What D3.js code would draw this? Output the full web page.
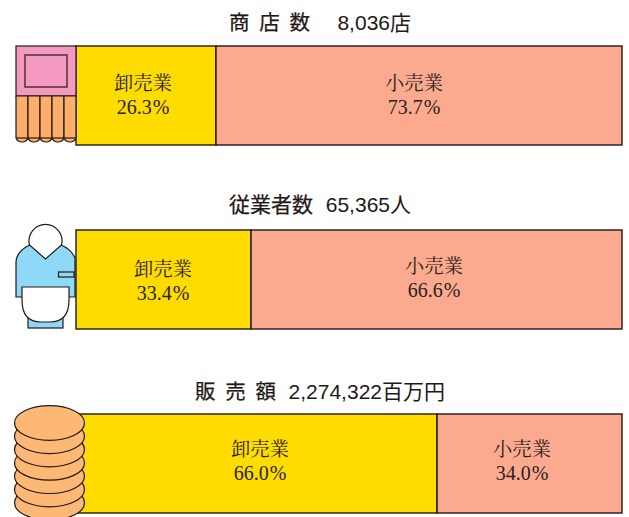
<!DOCTYPE html>
<html><head><meta charset="utf-8">
<script src="https://cdn.jsdelivr.net/npm/d3@7"></script>
<style>html,body{margin:0;padding:0;background:#fff}svg{display:block}</style>
</head><body><div id="c"></div>
<script>
const titleLabels = ["商 店 数","従業者数","販 売 額"];
const titleValues = ["8,036店","65,365人","2,274,322百万円"];
const categories = ["卸売業","小売業"];
const wholesale = [26.3,33.4,66.0];
const retail = [73.7,66.6,34.0];
const W=629,H=517;
const tops=[46,230,414], titleY=[30,212,399], titleL=[229,229,195], titleR=[411,411,445];
const left=76, right=622, barH=99;
// the hidden zero point of each bar sits behind its pictogram
const zero=[71.1,65,78];
const labelX=[[143,414],[163,434],[260,522]];
const labelY=[[90,90],[276,273],[456,456]];
const yellow="#ffdc00", salmon="#fbaa8f", ink="#2a2320";
const svg=d3.select("#c").append("svg").attr("width",W).attr("height",H);
const sans='"Liberation Sans","Noto Sans CJK JP",sans-serif';
const serif='"Liberation Serif","Noto Serif CJK JP","Noto Sans CJK JP",serif';
titleLabels.forEach((t,i)=>{
  const x=d3.scaleLinear().domain([0,100]).range([zero[i],right]);
  const g=svg.append("g");
  g.append("text").attr("x",titleL[i]).attr("y",titleY[i]).attr("word-spacing",i==1?0:4)
   .attr("font-family",sans).attr("font-size",i==1?21:20.5).attr("stroke","#231815").attr("stroke-width",0.25).attr("fill","#231815").text(t);
  g.append("text").attr("x",titleR[i]).attr("y",titleY[i]).attr("text-anchor","end")
   .attr("font-family",sans).attr("font-size",21).attr("fill","#231815").text(titleValues[i]);
  const segs=[{n:categories[0],v:wholesale[i],a:0,b:wholesale[i],f:yellow,k:0},
              {n:categories[1],v:retail[i],a:wholesale[i],b:100,f:salmon,k:1}];
  const s=g.selectAll("g").data(segs).join("g");
  s.append("rect").attr("x",d=>Math.max(x(d.a),left)).attr("y",tops[i])
   .attr("width",d=>x(d.b)-Math.max(x(d.a),left)).attr("height",barH)
   .attr("fill",d=>d.f).attr("stroke","#231815").attr("stroke-width",1.4);
  s.append("text").attr("x",d=>labelX[i][d.k]).attr("y",d=>labelY[i][d.k]).attr("text-anchor","middle")
   .attr("font-family",serif).attr("font-size",19.300).attr("fill",ink).text(d=>d.n);
  const pct=s.append("text").attr("x",d=>labelX[i][d.k]).attr("y",d=>labelY[i][d.k]+24).attr("text-anchor","middle")
   .attr("font-family",serif).attr("font-size",20).attr("fill",ink);
  pct.append("tspan").text(d=>d.v.toFixed(1));
  pct.append("tspan").attr("dx",1).text("%");
});
const st={stroke:"#231815","stroke-width":1.2};
const ap=(sel,o)=>{for(const k in o)sel.attr(k,o[k]);return sel;};
// shop icon
const shop=svg.append("g");
ap(shop.append("rect").attr("x",16).attr("y",46).attr("width",60).attr("height",50).attr("fill","#f49ac1"),st);
ap(shop.append("rect").attr("x",25).attr("y",55).attr("width",42).attr("height",32).attr("fill","#f49ac1"),st);
d3.range(5).forEach(k=>{
  const x0=16+k*12;
  ap(shop.append("path").attr("d",`M${x0} 96V138A6.500 6.500 0 0 0 ${x0+12} 138V96Z`).attr("fill","#fdae6b"),st);
  ap(shop.append("path").attr("d",`M${x0} 138H${x0+12}`).attr("fill","none"),st);
});
// person icon
const p=svg.append("g");
ap(p.append("rect").attr("x",28).attr("y",310).attr("width",35).attr("height",18).attr("fill","#8ed8f8"),st);
ap(p.append("path").attr("d","M29.500 245Q16 252 16 262V297H75V258Q71 249 61 245Z").attr("fill","#8ed8f8"),st);
ap(p.append("path").attr("d","M29.500 245A16.500 16.500 0 1 1 61.500 245L45.500 259Z").attr("fill","#fff"),st);
ap(p.append("rect").attr("x",58.500).attr("y",272).attr("width",15.500).attr("height",5).attr("fill","#8ed8f8"),st);
ap(p.append("path").attr("d","M22 287H69V300Q69 322 50 322H41Q22 322 22 300Z").attr("fill","#fff"),st);
// coin icon
const c=svg.append("g");
d3.range(6,-1,-1).forEach(k=>{
  ap(c.append("ellipse").attr("cx",49.500).attr("cy",423+k*13.300).attr("rx",35).attr("ry",17.300).attr("fill","#fdb875"),st);
});
</script></body></html>
